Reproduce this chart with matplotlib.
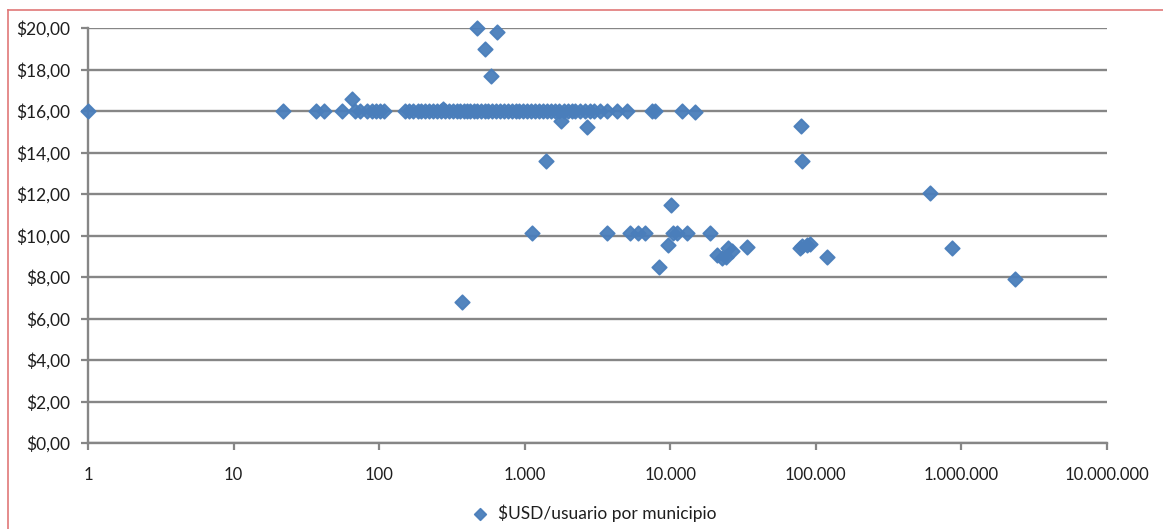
import matplotlib.pyplot as plt
from matplotlib.lines import Line2D
from matplotlib.ticker import FuncFormatter, FixedLocator, NullLocator

# usuarios por municipio (x) y $USD/usuario (y)
usuarios = [
    1, 22, 37, 42, 56, 65, 68, 74, 82, 89, 95, 101, 108,
    150, 160, 172, 185, 195, 205, 220, 235, 250, 265, 274, 285, 300, 320,
    340, 360, 380, 400, 420, 445, 470, 500, 530, 560, 600, 640, 680, 720,
    770, 820, 870, 920, 980, 1040, 1100, 1170, 1250, 1330, 1420, 1520,
    1620, 1730, 1850, 1980, 2100, 2210, 2390, 2600, 2800, 3000, 3280, 3670,
    4300, 5030, 7480, 7880, 12000, 14800,
    1770, 2680, 1400,
    470, 645, 535, 585,
    370, 1120, 3670, 5280, 5990, 6690,
    10100, 10400, 11100, 13000, 18700, 9630, 8350,
    20900, 22600, 24000, 24900, 26500, 33600,
    77700, 80000, 86700, 91000, 119000, 78900, 80100,
    607000, 859000, 2330000,
]
usd_usuario = [
    16.0, 16.0, 16.0, 16.0, 16.0, 16.6, 16.0, 16.0, 16.0, 16.0, 16.0, 16.0, 16.0,
    16.0, 16.0, 16.0, 16.0, 16.0, 16.0, 16.0, 16.0, 16.0, 16.0, 16.1, 16.0, 16.0, 16.0,
    16.0, 16.0, 16.0, 16.0, 16.0, 16.0, 16.0, 16.0, 16.0, 16.0, 16.0, 16.0, 16.0, 16.0,
    16.0, 16.0, 16.0, 16.0, 16.0, 16.0, 16.0, 16.0, 16.0, 16.0, 16.0, 16.0,
    16.0, 16.0, 16.0, 16.0, 16.0, 16.0, 16.0, 16.0, 16.0, 16.0, 16.0, 16.0,
    16.0, 16.0, 16.0, 16.0, 16.0, 15.95,
    15.5, 15.25, 13.6,
    20.0, 19.8, 19.0, 17.7,
    6.8, 10.1, 10.1, 10.1, 10.1, 10.1,
    11.47, 10.1, 10.1, 10.1, 10.1, 9.55, 8.5,
    9.06, 8.9, 8.95, 9.4, 9.25, 9.45,
    9.4, 9.5, 9.55, 9.6, 8.96, 15.28, 13.6,
    12.05, 9.4, 7.9,
]

x_ticks = [1, 10, 100, 1000, 10000, 100000, 1000000, 10000000]
y_ticks = [0, 2, 4, 6, 8, 10, 12, 14, 16, 18, 20]

plt.rcParams['font.family'] = ['Lato', 'DejaVu Sans']
grid_color = '#868686'
blue = '#4A7EBB'

fig = plt.figure(figsize=(11.63, 5.29), dpi=100)
ax = fig.add_axes([88 / 1163, 1 - 443 / 529, (1107 - 88) / 1163, (443 - 28) / 529])

ax.scatter(usuarios, usd_usuario, marker='D', s=55, color=blue, edgecolors=blue,
           linewidths=1.2, alpha=0.95, zorder=3, clip_on=False,
           label='$USD/usuario por municipio')

ax.set_xscale('log')
ax.set_xlim(1, 10000000)
ax.set_ylim(0, 20)
ax.xaxis.set_major_locator(FixedLocator(x_ticks))
ax.xaxis.set_minor_locator(NullLocator())
ax.xaxis.set_major_formatter(FuncFormatter(lambda v, p: f'{int(round(v)):,}'.replace(',', '.')))
ax.set_yticks(y_ticks)
ax.yaxis.set_major_formatter(FuncFormatter(lambda v, p: f'${v:.2f}'.replace('.', ',')))

ax.grid(axis='y', color=grid_color, linewidth=1.7)
ax.set_axisbelow(True)
for side in ['top', 'right']:
    ax.spines[side].set_visible(False)
for side in ['left', 'bottom']:
    ax.spines[side].set_color(grid_color)
    ax.spines[side].set_linewidth(1.7)
ax.tick_params(axis='x', length=5, width=1.6, color=grid_color, pad=12,
               labelsize=12, labelcolor='#1e1e1e')
ax.tick_params(axis='y', length=5, width=1.6, color=grid_color, pad=8,
               labelsize=12.5, labelcolor='#1e1e1e')

fig.legend(loc='center', bbox_to_anchor=(0.507, 0.03), frameon=False,
           fontsize=12.5, handletextpad=0.0, markerscale=0.8, labelcolor='#1e1e1e')

# borde rojo del recorte
fig.add_artist(Line2D([8 / 1163, 1], [1 - 10 / 529] * 2, color='#E07878', linewidth=1.2))
fig.add_artist(Line2D([8 / 1163] * 2, [0, 1 - 10 / 529], color='#E07878', linewidth=1.2))

fig.savefig('out.png', dpi=100)
